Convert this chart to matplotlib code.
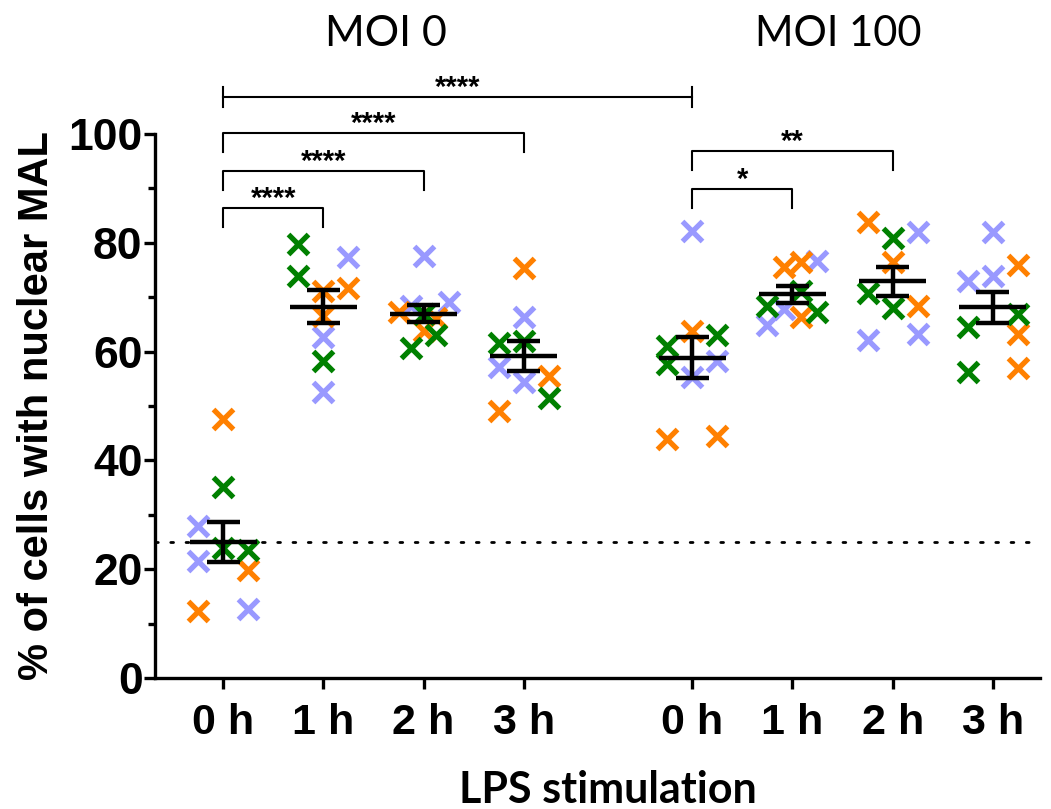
import numpy as np
import matplotlib
matplotlib.use("Agg")
import matplotlib.pyplot as plt

# ---------------- data ----------------
tick_labels = ["0 h", "1 h", "2 h", "3 h", "0 h", "1 h", "2 h", "3 h"]
group_titles = ["MOI 0", "MOI 100"]

orange_vals = [[47.7, 19.8, 12.3], [71.2, 71.7, 66.6], [67.3, 66.1, 63.7], [75.4, 55.6, 49.0],
               [63.7, 43.9, 44.4], [75.6, 76.5, 66.4], [83.9, 76.5, 68.4], [76.0, 63.3, 56.9]]
green_vals = [[35.2, 23.9, 23.5], [79.8, 73.9, 58.3], [67.0, 63.0, 60.7], [61.6, 62.0, 51.4],
              [63.1, 61.1, 57.8], [71.2, 68.4, 67.3], [80.9, 70.8, 68.1], [67.0, 64.6, 56.3]]
blue_vals = [[27.9, 21.5, 12.7], [77.4, 62.7, 52.6], [77.6, 69.2, 68.4], [66.4, 57.2, 54.5],
             [82.2, 58.3, 55.4], [76.7, 67.9, 64.8], [82.0, 62.2, 63.3], [82.0, 73.0, 73.9]]

baseline = 25

# significance comparisons: (group i, group j, label)
comparisons = [(0, 4, "****"), (0, 3, "****"), (0, 2, "****"), (0, 1, "****"),
               (4, 6, "**"), (4, 5, "*")]

# ---------------- layout ----------------
xpos = [0, 1, 2, 3, 4.68, 5.68, 6.68, 7.68]
spread = 0.25
orange_slots = [[0, 1, -1], [0, 1, 0], [-1, 0.5, 0], [0, 1, -1], [0, -1, 1],
                [-1/3, 1/3, 1/3], [-1, 0, 1], [1, 1, 1]]
green_slots = [[0, 0, 1], [-1, -1, 0], [0, 0.5, -0.5], [-1, 0, 1], [1, -1, -1],
               [1/3, -1, 1], [0, -1, 0], [1, -1, -1]]
blue_slots = [[-1, -1, 1], [1, 0, 0], [0, 1, -0.5], [0, -1, 0], [0, 1, 0],
              [1, -1/3, -1], [1, -1, 1], [0, -1, 0]]
bracket_levels = [106.8, 100.2, 93.2, 86.4, 96.9, 89.9]

c_orange = "#FF8000"
c_green = "#008000"
c_blue = "#9999FF"

fig = plt.figure(figsize=(10.51, 8.09), dpi=100)
ax = fig.add_axes([155/1051, 1-678/809, (1040-155)/1051, (678-134)/809])
ax.set_xlim(-0.68, 8.15)
ax.set_ylim(0, 100)

ax.axhline(baseline, color="black", lw=2, ls=(0, (1, 4.5)), dash_capstyle="round", zorder=1)

ms = 14
mew = 3.8
for vals, slots, col in [(blue_vals, blue_slots, c_blue), (orange_vals, orange_slots, c_orange),
                         (green_vals, green_slots, c_green)]:
    for gi in range(len(xpos)):
        xs = [xpos[gi] + s * spread for s in slots[gi]]
        ax.plot(xs, vals[gi], ls="none", marker="x", ms=ms, mew=mew, color=col,
                zorder=3, clip_on=False)

for gi in range(len(xpos)):
    allv = np.array(orange_vals[gi] + green_vals[gi] + blue_vals[gi])
    m = allv.mean()
    sem = allv.std(ddof=1) / np.sqrt(len(allv))
    x = xpos[gi]
    ax.plot([x - 0.335, x + 0.335], [m, m], color="black", lw=3.2, zorder=5, solid_capstyle="butt")
    ax.plot([x, x], [m - sem, m + sem], color="black", lw=3.2, zorder=5, solid_capstyle="butt")
    for e in (m - sem, m + sem):
        ax.plot([x - 0.165, x + 0.165], [e, e], color="black", lw=3.2, zorder=5, solid_capstyle="butt")

# brackets
drop = 3.5
for (i, j, lab), lev in zip(comparisons, bracket_levels):
    x1, x2 = xpos[i], xpos[j]
    if (i, j) == (0, 4):
        ax.plot([x1, x2], [lev, lev], color="black", lw=1.5, clip_on=False)
        for xx in (x1, x2):
            ax.plot([xx, xx], [lev - 1.8, lev + 1.8], color="black", lw=1.5, clip_on=False)
    else:
        ax.plot([x1, x1, x2, x2], [lev - drop, lev, lev, lev - drop], color="black", lw=1.5,
                clip_on=False)
    ax.text((x1 + x2) / 2, lev - 0.9, lab, ha="center", va="bottom", fontsize=21,
            fontweight="bold", family="Liberation Sans", clip_on=False)

ax.text(1.62, 118.4, group_titles[0], ha="center", va="center", fontsize=31, family="Lato")
ax.text(6.14, 118.4, group_titles[1], ha="center", va="center", fontsize=30, family="Lato")

for s in ["top", "right"]:
    ax.spines[s].set_visible(False)
for s in ["left", "bottom"]:
    ax.spines[s].set_linewidth(2.4)

ax.set_yticks([0, 20, 40, 60, 80, 100])
ax.set_yticks([10, 30, 50, 70, 90], minor=True)
ax.tick_params(axis="y", which="major", length=8, width=2.4, pad=1)
ax.tick_params(axis="y", which="minor", length=5, width=2.4)
ax.set_yticklabels([str(v) for v in [0, 20, 40, 60, 80, 100]], fontsize=32,
                   fontweight="bold", family="Liberation Sans")
ax.set_xticks(xpos)
ax.set_xticklabels(tick_labels, fontsize=31, fontweight="bold", family="Liberation Sans")
ax.tick_params(axis="x", length=8, width=2.4, pad=10)

ax.set_ylabel("% of cells with nuclear MAL", fontsize=30, fontweight="bold",
              family="Liberation Sans", labelpad=8)
fig.text(608/1051, 1 - 790/809, "LPS stimulation", ha="center", va="center",
         fontsize=31, fontweight="bold", family="Lato")

fig.savefig("out.png", dpi=100)
